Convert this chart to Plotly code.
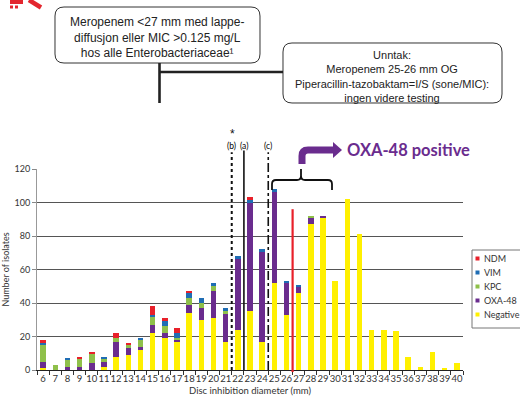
import plotly.graph_objects as go

# ---------------- data ----------------
DIAMETERS = list(range(6, 41))
NEGATIVE = [1, 0, 0, 0, 0, 2, 8, 9, 12, 22, 19, 17, 34, 30, 31, 17, 24, 35, 17, 52,
            33, 46, 87, 91, 53, 102, 81, 24, 24, 23, 8, 2, 11, 1, 4]
OXA48 = [4, 0, 2, 2, 4, 3, 9, 4, 2, 5, 3, 1, 5, 7, 16, 17, 42, 65, 54, 54,
         19, 4, 4, 1, 0, 0, 0, 0, 0, 0, 0, 0, 0, 0, 0]
KPC = [10, 3, 4, 5, 6, 2, 2, 2, 4, 5, 4, 1, 4, 3, 3, 1, 0, 0, 0, 0,
       0, 0, 1, 0, 0, 0, 0, 0, 0, 0, 0, 0, 0, 0, 0]
VIM = [1, 0, 1, 0, 0, 1, 0, 0, 1, 1, 3, 3, 3, 3, 2, 2, 2, 2, 1, 2,
       1, 1, 0, 0, 0, 0, 0, 0, 0, 0, 0, 0, 0, 0, 0]
NDM = [2, 0, 0, 1, 1, 0, 3, 1, 0, 5, 2, 3, 1, 0, 0, 0, 0, 1, 0, 0,
       0, 0, 0, 0, 0, 0, 0, 0, 0, 0, 0, 0, 0, 0, 0]

SERIES = [("Negative", NEGATIVE), ("OXA-48", OXA48), ("KPC", KPC), ("VIM", VIM), ("NDM", NDM)]
COLORS = {"Negative": "#fff000", "OXA-48": "#6a2c8e", "KPC": "#8fc04a",
          "VIM": "#1f6db4", "NDM": "#e8202a"}
Y_TICKS = [0, 20, 40, 60, 80, 100, 120]

BOX1_TEXT = "Meropenem <27 mm med lappe-<br>diffusjon eller MIC >0.125 mg/L<br>hos alle Enterobacteriaceae¹"
BOX2_TEXT = "Unntak:<br>Meropenem 25-26 mm OG<br>Piperacillin-tazobaktam=I/S (sone/MIC):<br>ingen videre testing"

# ---------------- geometry helpers (window pixels) ----------------
W, H = 520, 399
PLOT_L, PLOT_R, PLOT_T, PLOT_B = 37, 463, 169, 370
ML, MR, MT, MB = PLOT_L, W - PLOT_R, PLOT_T, H - PLOT_B
PW, PH = PLOT_R - PLOT_L, PLOT_B - PLOT_T
YMAX = 120


def px(x):
    return (x - PLOT_L) / PW


def py(y):
    return (PLOT_B - y) / PH


def path_px(cmds):
    out = []
    for c in cmds:
        if isinstance(c, str):
            out.append(c)
        else:
            out.append("%.5f,%.5f" % (px(c[0]), py(c[1])))
    return " ".join(out)


def rounded_rect(x0, y0, x1, y1, r):
    return path_px(["M", (x0 + r, y0), "L", (x1 - r, y0), "Q", (x1, y0), (x1, y0 + r),
                    "L", (x1, y1 - r), "Q", (x1, y1), (x1 - r, y1),
                    "L", (x0 + r, y1), "Q", (x0, y1), (x0, y1 - r),
                    "L", (x0, y0 + r), "Q", (x0, y0), (x0 + r, y0), "Z"])


fig = go.Figure()
for name, vals in SERIES:
    fig.add_trace(go.Bar(x=DIAMETERS, y=vals, name=name, width=0.45,
                         marker=dict(color=COLORS[name], line=dict(width=0)),
                         showlegend=False))

shapes = []
annotations = []


def vline(xv, top, color, width, dash):
    shapes.append(dict(type="line", xref="x", yref="paper", x0=xv, x1=xv,
                       y0=0, y1=top / YMAX, line=dict(color=color, width=width, dash=dash)))


vline(21.5, 130, "#111", 2, "dot")
vline(22.5, 131, "#111", 1.6, "solid")
vline(24.5, 130, "#111", 1.6, "dashdot")
shapes.append(dict(type="line", xref="x", yref="paper", x0=26.5, x1=26.5,
                   y0=py(372), y1=96 / YMAX, line=dict(color="#e8202a", width=2.2)))

for lab, xv in [("(b)", 21.45), ("(a)", 22.5), ("(c)", 24.5)]:
    annotations.append(dict(text=lab, x=xv, y=py(146), xref="x", yref="paper",
                            showarrow=False, xanchor="center", yanchor="middle",
                            font=dict(family="Lato", size=8.5, color="#000")))
annotations.append(dict(text="*", x=21.6, y=py(134), xref="x", yref="paper",
                        showarrow=False, xanchor="center", yanchor="middle",
                        font=dict(family="Liberation Sans", size=12, color="#111")))

# brace
shapes.append(dict(type="path", xref="paper", yref="paper",
                   path=path_px(["M", (272, 190), "L", (272, 184), "Q", (272, 180), (276, 180),
                                 "L", (297, 180), "Q", (301, 180), (301, 176), "L", (301, 169),
                                 "M", (301, 176), "Q", (301, 180), (305, 180),
                                 "L", (328, 180), "Q", (332, 180), (332, 184), "L", (332, 190)]),
                   line=dict(color="#111", width=1.8)))

# purple arrow
PURPLE = "#6a2c8e"
shapes.append(dict(type="path", xref="paper", yref="paper",
                   path=path_px(["M", (302, 164), "L", (302, 156), "Q", (302, 150), (308, 150),
                                 "L", (334, 150)]),
                   line=dict(color=PURPLE, width=7)))
shapes.append(dict(type="path", xref="paper", yref="paper",
                   path=path_px(["M", (333, 142), "L", (342, 150), "L", (333, 158), "Z"]),
                   fillcolor=PURPLE, line=dict(color=PURPLE, width=0)))
annotations.append(dict(text="<b>OXA-48 positive</b>", x=px(345), y=py(150), xref="paper",
                        yref="paper", showarrow=False, xanchor="left", yanchor="middle",
                        font=dict(family="Lato", size=16.5, color=PURPLE)))

# top flowchart boxes
shapes.append(dict(type="path", xref="paper", yref="paper", path=rounded_rect(55, 7, 260, 63, 9),
                   line=dict(color="#333", width=1), fillcolor="white"))
shapes.append(dict(type="path", xref="paper", yref="paper", path=rounded_rect(283, 43, 502, 103, 9),
                   line=dict(color="#333", width=1), fillcolor="white"))
shapes.append(dict(type="line", xref="paper", yref="paper", x0=px(159.5), x1=px(159.5),
                   y0=py(63), y1=py(103), line=dict(color="#222", width=2.6)))
shapes.append(dict(type="line", xref="paper", yref="paper", x0=px(159.5), x1=px(283),
                   y0=py(72), y1=py(72), line=dict(color="#222", width=2.6)))
annotations.append(dict(text=BOX1_TEXT, x=px(157), y=py(37), xref="paper", yref="paper",
                        showarrow=False, xanchor="center", yanchor="middle",
                        font=dict(family="Liberation Sans", size=12, color="#222")))
annotations.append(dict(text=BOX2_TEXT, x=px(392), y=py(76), xref="paper", yref="paper",
                        showarrow=False, xanchor="center", yanchor="middle",
                        font=dict(family="Liberation Sans", size=11, color="#222")))

# logo fragment
RED = "#e3262e"
shapes.append(dict(type="rect", xref="paper", yref="paper", x0=px(10), x1=px(23), y0=py(4), y1=py(0),
                   fillcolor=RED, line=dict(width=0)))
shapes.append(dict(type="rect", xref="paper", yref="paper", x0=px(10), x1=px(13), y0=py(8.5), y1=py(5.5),
                   fillcolor=RED, line=dict(width=0)))
shapes.append(dict(type="rect", xref="paper", yref="paper", x0=px(15), x1=px(18), y0=py(8.5), y1=py(5.5),
                   fillcolor=RED, line=dict(width=0)))
shapes.append(dict(type="line", xref="paper", yref="paper", x0=px(29), x1=px(41), y0=py(0), y1=py(7.5),
                   line=dict(color=RED, width=4.5)))

# manual legend (top entry = last stacked series)
shapes.append(dict(type="rect", xref="paper", yref="paper", x0=px(472), x1=px(540),
                   y0=py(328), y1=py(250), line=dict(color="#777", width=1), fillcolor="white"))
for i, (name, _) in enumerate(reversed(SERIES)):
    yc = 258.5 + 14 * i
    shapes.append(dict(type="rect", xref="paper", yref="paper", x0=px(475.5), x1=px(479.5),
                       y0=py(yc + 2), y1=py(yc - 2), fillcolor=COLORS[name], line=dict(width=0)))
    annotations.append(dict(text=name, x=px(482), y=py(yc), xref="paper", yref="paper",
                            showarrow=False, xanchor="left", yanchor="middle",
                            font=dict(family="Lato", size=9, color="#333")))

fig.update_layout(
    width=W, height=H,
    margin=dict(l=ML, r=MR, t=MT, b=MB, pad=0, autoexpand=False),
    barmode="stack",
    bargap=0,
    paper_bgcolor="white", plot_bgcolor="white",
    font=dict(family="Lato", size=9, color="#333"),
    showlegend=False,
    shapes=shapes,
    annotations=annotations,
    xaxis=dict(range=[5.5, 40.5], tickmode="array", tickvals=DIAMETERS,
               ticktext=[str(d) for d in DIAMETERS], ticks="", showgrid=False,
               tickangle=0,
               zeroline=False, showline=True, linecolor="#222", linewidth=1,
               tickfont=dict(family="Lato", size=9.5, color="#333"),
               minor=dict(tickmode="linear", tick0=5.5, dtick=1, ticks="outside",
                          ticklen=4, tickcolor="#333", tickwidth=1, showgrid=False),
               title=dict(text="Disc inhibition diameter (mm)", standoff=3,
                          font=dict(family="Lato", size=9.5, color="#333"))),
    yaxis=dict(range=[0, YMAX], tickmode="array", tickvals=Y_TICKS, ticks="outside",
               ticklen=4, tickcolor="#888", showgrid=True, gridcolor="#555", gridwidth=1,
               zeroline=False, showline=True, linecolor="#999", linewidth=1,
               tickfont=dict(family="Lato", size=9, color="#333"),
               title=dict(text="Number of isolates", standoff=6,
                          font=dict(family="Lato", size=9, color="#333"))),
)

fig.write_html("out.html", config={"displayModeBar": False},
               post_script="document.body.style.margin='0';document.body.style.overflow='hidden';")
